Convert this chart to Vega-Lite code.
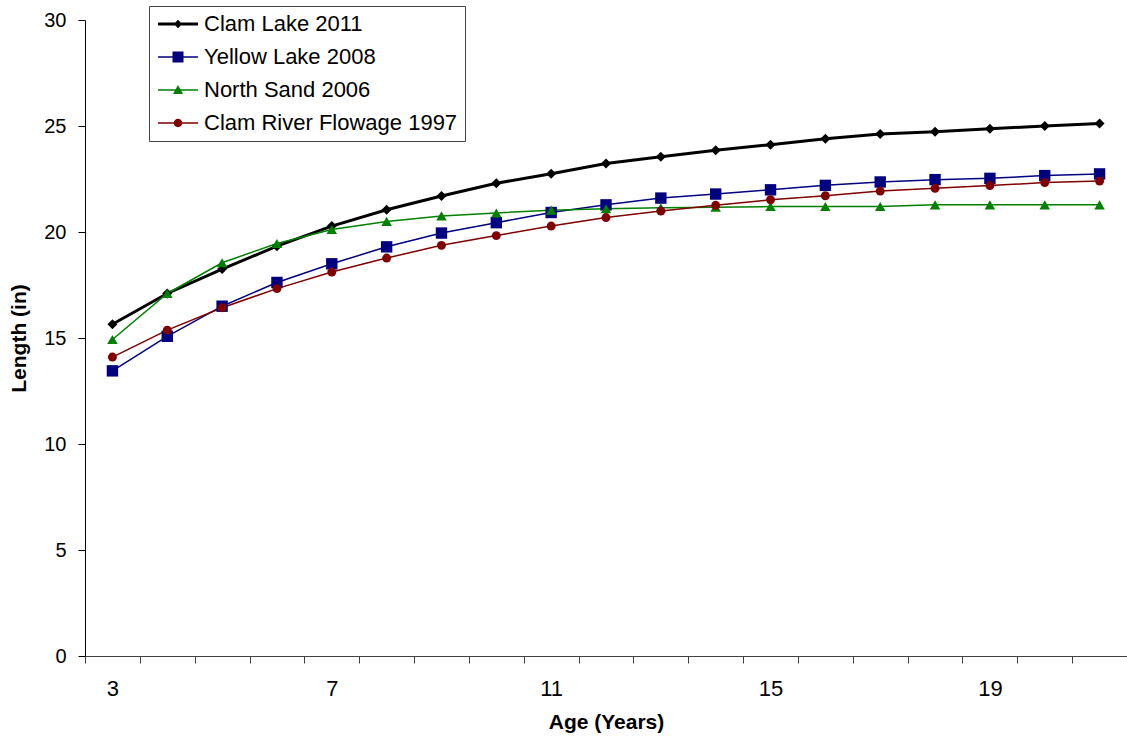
{
  "$schema": "https://vega.github.io/schema/vega-lite/v6.json",
  "width": 1042,
  "height": 636,
  "autosize": {"type": "none"},
  "padding": {"left": 85, "top": 20, "right": 0, "bottom": 84},
  "background": "white",
  "config": {
    "view": {"stroke": null},
    "font": "Liberation Sans",
    "axis": {
      "grid": false,
      "domainColor": "#000000",
      "tickColor": "#000000",
      "labelColor": "#000000",
      "titleColor": "#000000",
      "labelFont": "Liberation Sans",
      "titleFont": "Liberation Sans",
      "titleFontWeight": "bold",
      "titleFontSize": 21,
      "domainWidth": 1,
      "tickWidth": 1
    },
    "legend": {
      "labelFont": "Liberation Sans",
      "labelFontSize": 22,
      "labelColor": "#000000"
    }
  },
  "data": {
    "values": [
      {"series": "Clam Lake 2011", "age": 3, "length": 15.65},
      {"series": "Clam Lake 2011", "age": 4, "length": 17.1},
      {"series": "Clam Lake 2011", "age": 5, "length": 18.25},
      {"series": "Clam Lake 2011", "age": 6, "length": 19.33},
      {"series": "Clam Lake 2011", "age": 7, "length": 20.28},
      {"series": "Clam Lake 2011", "age": 8, "length": 21.05},
      {"series": "Clam Lake 2011", "age": 9, "length": 21.7},
      {"series": "Clam Lake 2011", "age": 10, "length": 22.3},
      {"series": "Clam Lake 2011", "age": 11, "length": 22.75},
      {"series": "Clam Lake 2011", "age": 12, "length": 23.23},
      {"series": "Clam Lake 2011", "age": 13, "length": 23.55},
      {"series": "Clam Lake 2011", "age": 14, "length": 23.86},
      {"series": "Clam Lake 2011", "age": 15, "length": 24.12},
      {"series": "Clam Lake 2011", "age": 16, "length": 24.4},
      {"series": "Clam Lake 2011", "age": 17, "length": 24.62},
      {"series": "Clam Lake 2011", "age": 18, "length": 24.73},
      {"series": "Clam Lake 2011", "age": 19, "length": 24.87},
      {"series": "Clam Lake 2011", "age": 20, "length": 25.0},
      {"series": "Clam Lake 2011", "age": 21, "length": 25.12},
      {"series": "Yellow Lake 2008", "age": 3, "length": 13.45},
      {"series": "Yellow Lake 2008", "age": 4, "length": 15.08},
      {"series": "Yellow Lake 2008", "age": 5, "length": 16.5},
      {"series": "Yellow Lake 2008", "age": 6, "length": 17.62},
      {"series": "Yellow Lake 2008", "age": 7, "length": 18.5},
      {"series": "Yellow Lake 2008", "age": 8, "length": 19.3},
      {"series": "Yellow Lake 2008", "age": 9, "length": 19.95},
      {"series": "Yellow Lake 2008", "age": 10, "length": 20.44},
      {"series": "Yellow Lake 2008", "age": 11, "length": 20.92},
      {"series": "Yellow Lake 2008", "age": 12, "length": 21.28},
      {"series": "Yellow Lake 2008", "age": 13, "length": 21.6},
      {"series": "Yellow Lake 2008", "age": 14, "length": 21.79},
      {"series": "Yellow Lake 2008", "age": 15, "length": 21.99},
      {"series": "Yellow Lake 2008", "age": 16, "length": 22.2},
      {"series": "Yellow Lake 2008", "age": 17, "length": 22.36},
      {"series": "Yellow Lake 2008", "age": 18, "length": 22.47},
      {"series": "Yellow Lake 2008", "age": 19, "length": 22.53},
      {"series": "Yellow Lake 2008", "age": 20, "length": 22.66},
      {"series": "Yellow Lake 2008", "age": 21, "length": 22.74},
      {"series": "North Sand 2006", "age": 3, "length": 14.93},
      {"series": "North Sand 2006", "age": 4, "length": 17.1},
      {"series": "North Sand 2006", "age": 5, "length": 18.55},
      {"series": "North Sand 2006", "age": 6, "length": 19.46},
      {"series": "North Sand 2006", "age": 7, "length": 20.12},
      {"series": "North Sand 2006", "age": 8, "length": 20.5},
      {"series": "North Sand 2006", "age": 9, "length": 20.76},
      {"series": "North Sand 2006", "age": 10, "length": 20.9},
      {"series": "North Sand 2006", "age": 11, "length": 21.03},
      {"series": "North Sand 2006", "age": 12, "length": 21.1},
      {"series": "North Sand 2006", "age": 13, "length": 21.14},
      {"series": "North Sand 2006", "age": 14, "length": 21.17},
      {"series": "North Sand 2006", "age": 15, "length": 21.2},
      {"series": "North Sand 2006", "age": 16, "length": 21.2},
      {"series": "North Sand 2006", "age": 17, "length": 21.2},
      {"series": "North Sand 2006", "age": 18, "length": 21.28},
      {"series": "North Sand 2006", "age": 19, "length": 21.28},
      {"series": "North Sand 2006", "age": 20, "length": 21.28},
      {"series": "North Sand 2006", "age": 21, "length": 21.28},
      {"series": "Clam River Flowage 1997", "age": 3, "length": 14.1},
      {"series": "Clam River Flowage 1997", "age": 4, "length": 15.37},
      {"series": "Clam River Flowage 1997", "age": 5, "length": 16.43},
      {"series": "Clam River Flowage 1997", "age": 6, "length": 17.33},
      {"series": "Clam River Flowage 1997", "age": 7, "length": 18.11},
      {"series": "Clam River Flowage 1997", "age": 8, "length": 18.77},
      {"series": "Clam River Flowage 1997", "age": 9, "length": 19.37},
      {"series": "Clam River Flowage 1997", "age": 10, "length": 19.83},
      {"series": "Clam River Flowage 1997", "age": 11, "length": 20.28},
      {"series": "Clam River Flowage 1997", "age": 12, "length": 20.68},
      {"series": "Clam River Flowage 1997", "age": 13, "length": 20.99},
      {"series": "Clam River Flowage 1997", "age": 14, "length": 21.26},
      {"series": "Clam River Flowage 1997", "age": 15, "length": 21.52},
      {"series": "Clam River Flowage 1997", "age": 16, "length": 21.71},
      {"series": "Clam River Flowage 1997", "age": 17, "length": 21.93},
      {"series": "Clam River Flowage 1997", "age": 18, "length": 22.06},
      {"series": "Clam River Flowage 1997", "age": 19, "length": 22.19},
      {"series": "Clam River Flowage 1997", "age": 20, "length": 22.33},
      {"series": "Clam River Flowage 1997", "age": 21, "length": 22.4}
    ]
  },
  "encoding": {
    "x": {
      "field": "age",
      "type": "quantitative",
      "scale": {"domain": [2.5, 21.5], "nice": false, "zero": false},
      "axis": {
        "title": "Age (Years)",
        "values": [2.5, 3.5, 4.5, 5.5, 6.5, 7.5, 8.5, 9.5, 10.5, 11.5, 12.5, 13.5, 14.5, 15.5, 16.5, 17.5, 18.5, 19.5, 20.5, 21.5],
        "labelExpr": "(datum.value == 2.5 || datum.value == 6.5 || datum.value == 10.5 || datum.value == 14.5 || datum.value == 18.5) ? format(datum.value + 0.5, 'd') : ''",
        "labelOffset": 27.42,
        "labelFlush": false,
        "labelOverlap": false,
        "labelBound": false,
        "labelFontSize": 22,
        "tickSize": 7,
        "labelPadding": 15,
        "titlePadding": 12,
        "domainColor": "#404040",
        "tickColor": "#404040"
      }
    },
    "y": {
      "field": "length",
      "type": "quantitative",
      "scale": {"domain": [0, 30], "nice": false},
      "axis": {
        "title": "Length (in)",
        "values": [0, 5, 10, 15, 20, 25, 30],
        "labelFontSize": 20,
        "tickSize": 7,
        "labelPadding": 12,
        "titlePadding": 14
      }
    }
  },
  "layer": [
    {
      "transform": [{"filter": {"field": "series", "equal": "Clam Lake 2011"}}],
      "mark": {"type": "line", "strokeWidth": 3, "color": "#000000"},
      "encoding": {}
    },
    {
      "transform": [{"filter": {"field": "series", "equal": "Yellow Lake 2008"}}],
      "mark": {"type": "line", "strokeWidth": 1.5, "color": "#000080"},
      "encoding": {}
    },
    {
      "transform": [{"filter": {"field": "series", "equal": "North Sand 2006"}}],
      "mark": {"type": "line", "strokeWidth": 1.5, "color": "#008000"},
      "encoding": {}
    },
    {
      "transform": [{"filter": {"field": "series", "equal": "Clam River Flowage 1997"}}],
      "mark": {"type": "line", "strokeWidth": 1.5, "color": "#800000"},
      "encoding": {}
    },
    {
      "transform": [{"filter": {"field": "series", "equal": "Clam Lake 2011"}}],
      "mark": {"type": "point", "shape": "diamond", "filled": true, "opacity": 1, "size": 100},
      "encoding": {
        "color": {"field": "series", "type": "nominal", "scale": {"domain": ["Clam Lake 2011", "Yellow Lake 2008", "North Sand 2006", "Clam River Flowage 1997"], "range": ["#000000", "#000080", "#008000", "#800000"]}}
      }
    },
    {
      "transform": [{"filter": {"field": "series", "equal": "Yellow Lake 2008"}}],
      "mark": {"type": "point", "shape": "square", "filled": true, "opacity": 1, "size": 130},
      "encoding": {
        "color": {"field": "series", "type": "nominal", "scale": {"domain": ["Clam Lake 2011", "Yellow Lake 2008", "North Sand 2006", "Clam River Flowage 1997"], "range": ["#000000", "#000080", "#008000", "#800000"]}}
      }
    },
    {
      "transform": [{"filter": {"field": "series", "equal": "North Sand 2006"}}],
      "mark": {"type": "point", "shape": "triangle-up", "filled": true, "opacity": 1, "size": 110},
      "encoding": {
        "color": {"field": "series", "type": "nominal", "scale": {"domain": ["Clam Lake 2011", "Yellow Lake 2008", "North Sand 2006", "Clam River Flowage 1997"], "range": ["#000000", "#000080", "#008000", "#800000"]}}
      }
    },
    {
      "transform": [{"filter": {"field": "series", "equal": "Clam River Flowage 1997"}}],
      "mark": {"type": "point", "shape": "circle", "filled": true, "opacity": 1, "size": 80},
      "encoding": {
        "color": {"field": "series", "type": "nominal", "scale": {"domain": ["Clam Lake 2011", "Yellow Lake 2008", "North Sand 2006", "Clam River Flowage 1997"], "range": ["#000000", "#000080", "#008000", "#800000"]}}
      }
    },
    {
      "mark": {"type": "point", "filled": true, "opacity": 0},
      "encoding": {
        "color": {
          "field": "series",
          "type": "nominal",
          "scale": {
            "domain": ["Clam Lake 2011", "Yellow Lake 2008", "North Sand 2006", "Clam River Flowage 1997"],
            "range": ["#000000", "#000080", "#008000", "#800000"]
          },
          "legend": {
            "title": null,
            "orient": "none",
            "legendX": 64,
            "legendY": -14,
            "padding": 7,
            "strokeColor": "#444444",
            "fillColor": "#ffffff",
            "cornerRadius": 0,
            "rowPadding": 11,
            "symbolSize": 400,
            "symbolStrokeWidth": 0,
            "symbolOffset": 11,
            "labelOffset": 15,
            "labelLimit": 400,
            "symbolOpacity": 1
          }
        },
        "shape": {
          "field": "series",
          "type": "nominal",
          "scale": {
            "domain": ["Clam Lake 2011", "Yellow Lake 2008", "North Sand 2006", "Clam River Flowage 1997"],
            "range": [
              "M-2,-0.15H2V0.15H-2Z M0,-0.42L0.42,0L0,0.42L-0.42,0Z",
              "M-2,-0.075H2V0.075H-2Z M-0.55,-0.55H0.55V0.55H-0.55Z",
              "M-2,-0.075H2V0.075H-2Z M0,-0.5L0.5,0.4H-0.5Z",
              "M-2,-0.075H2V0.075H-2Z M-0.42,0A0.42,0.42,0,1,1,0.42,0A0.42,0.42,0,1,1,-0.42,0Z"
            ]
          }
        }
      }
    }
  ]
}
